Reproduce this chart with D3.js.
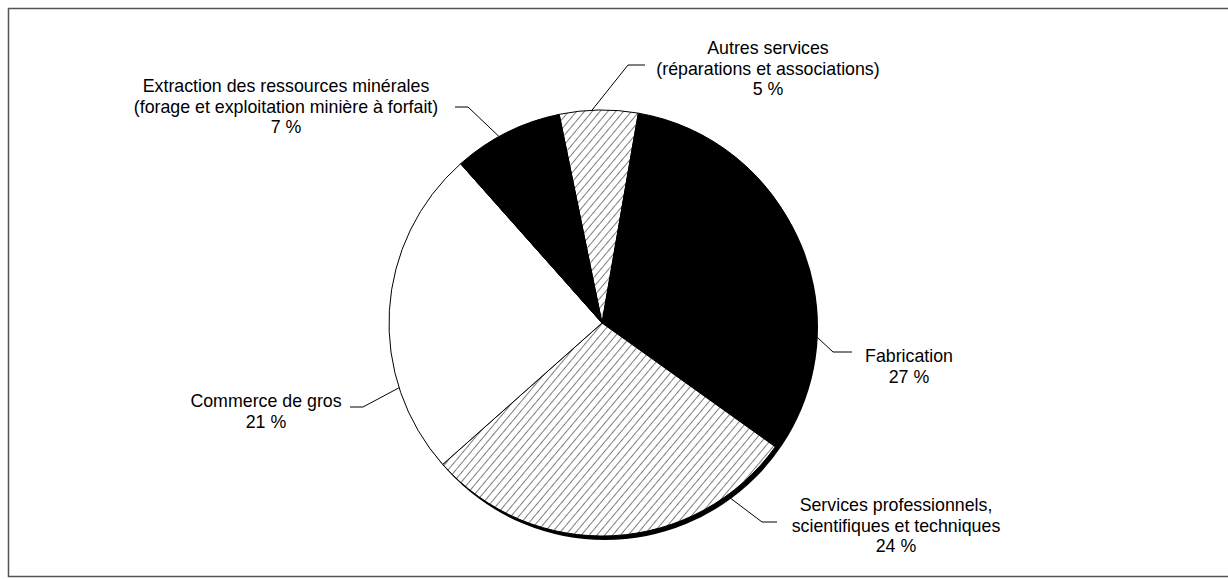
<!DOCTYPE html>
<html>
<head>
<meta charset="utf-8">
<script src="https://cdn.jsdelivr.net/npm/d3@7"></script>
<style>
  body { margin: 0; background: #fff; }
  text { font-family: "Liberation Sans", Arial, sans-serif; font-size: 17.8px; fill: #000; }
</style>
</head>
<body>
<div class="chart"></div>
<script>
// slice order follows the pie clockwise from the top
var categories = ["Autres services", "Fabrication", "Services professionnels", "Commerce de gros", "Extraction des ressources minérales"];
var values = [5, 27, 24, 21, 7];
var labelLines = [
  ["Autres services", "(réparations et associations)", "5 %"],
  ["Fabrication", "27 %"],
  ["Services professionnels,", "scientifiques et techniques", "24 %"],
  ["Commerce de gros", "21 %"],
  ["Extraction des ressources minérales", "(forage et exploitation minière à forfait)", "7 %"]
];
var fills = ["hatch", "#000", "hatch", "#fff", "#000"];

// label placement: rim angle where the leader starts (deg), elbow, end, text anchor
var layout = [
  { at: -2.7,  elbow: [628, 65],  end: [645, 65],  text: [768, 54] },
  { at: 93.2,  elbow: [833, 352], end: [852, 352], text: [909, 362] },
  { at: 144.1, elbow: [762, 522], end: [777, 522], text: [896, 511] },
  { at: 252.3, elbow: [363, 407], end: [350, 407], text: [266, 407] },
  { at: 331.1, elbow: [468, 107], end: [455, 107], text: [286, 92] }
];

var W = 1228, H = 579;
var cx = 602, cy = 323, r = 213;

var svg = d3.select("div.chart").append("svg")
    .attr("width", W)
    .attr("height", H);

var defs = svg.append("defs");
var pat = defs.append("pattern")
    .attr("id", "hatch")
    .attr("patternUnits", "userSpaceOnUse")
    .attr("width", 6)
    .attr("height", 6)
    .attr("patternTransform", "rotate(40)");
pat.append("rect").attr("width", 6).attr("height", 6).attr("fill", "#fff");
pat.append("line")
    .attr("x1", 0).attr("y1", 0).attr("x2", 0).attr("y2", 6)
    .attr("stroke", "#000").attr("stroke-width", 1);

// frame
svg.append("rect")
    .attr("x", 8.5).attr("y", 8.5)
    .attr("width", W + 10).attr("height", 568)
    .attr("fill", "none")
    .attr("stroke", "#555")
    .attr("stroke-width", 1.5);

var start = -11.6 * Math.PI / 180;
var pie = d3.pie().sort(null).startAngle(start).endAngle(start + 2 * Math.PI);
var arcs = pie(values);
var arc = d3.arc().innerRadius(0).outerRadius(r);

var g = svg.append("g").attr("transform", "translate(" + cx + "," + cy + ")");

// shadow
g.append("circle")
    .attr("cx", 3).attr("cy", 4).attr("r", r)
    .attr("fill", "#000");

g.selectAll(".slice")
    .data(arcs)
    .enter()
    .append("path")
    .attr("class", "slice")
    .attr("d", arc)
    .attr("fill", function(d, i) { return fills[i] === "hatch" ? "url(#hatch)" : fills[i]; })
    .attr("stroke", "#000")
    .attr("stroke-width", 1);

// leader lines
svg.selectAll(".leader")
    .data(arcs)
    .enter()
    .append("polyline")
    .attr("class", "leader")
    .attr("fill", "none")
    .attr("stroke", "#000")
    .attr("stroke-width", 1)
    .attr("points", function(d, i) {
      var L = layout[i];
      var a = L.at * Math.PI / 180;
      var p = [cx + r * Math.sin(a), cy - r * Math.cos(a)];
      return [p, L.elbow, L.end].map(function(q) { return q.join(","); }).join(" ");
    });

// labels
var labels = svg.selectAll(".label")
    .data(labelLines)
    .enter()
    .append("text")
    .attr("class", "label")
    .attr("text-anchor", "middle")
    .attr("x", function(d, i) { return layout[i].text[0]; })
    .attr("y", function(d, i) { return layout[i].text[1]; });

labels.selectAll("tspan")
    .data(function(d, i) { return d.map(function(s) { return { s: s, i: i }; }); })
    .enter()
    .append("tspan")
    .attr("x", function(d) { return layout[d.i].text[0]; })
    .attr("dy", function(d, j) { return j === 0 ? 0 : 20.5; })
    .text(function(d) { return d.s; });
</script>
</body>
</html>
